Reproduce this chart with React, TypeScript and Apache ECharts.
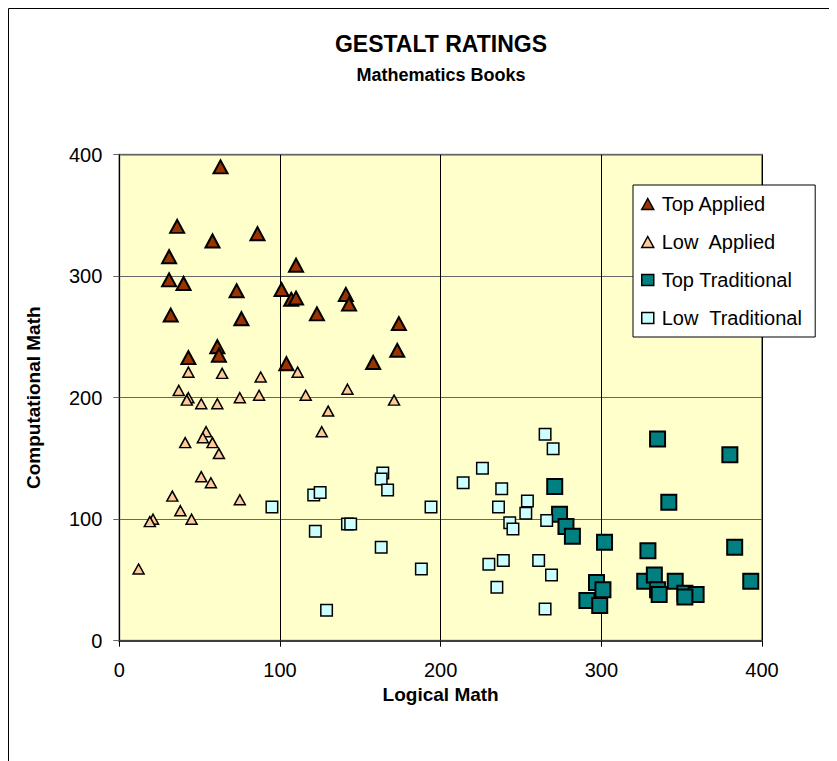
import React, { useEffect, useRef } from "react";
import * as echarts from "echarts";

const TITLE = "GESTALT RATINGS";
const SUBTITLE = "Mathematics Books";
const X_NAME = "Logical Math";
const Y_NAME = "Computational Math";
const X_TICKS = [0, 100, 200, 300, 400];
const Y_TICKS = [0, 100, 200, 300, 400];

const SERIES_NAMES = ["Top Applied", "Low  Applied", "Top Traditional", "Low  Traditional"];

const topApplied: [number, number][] = [
  [63, 390], [36, 341], [86, 335], [58, 329], [31, 316], [110, 309], [31, 297], [40, 294],
  [101, 289], [73, 288], [107, 281], [110, 282], [123, 269], [32, 268], [76, 265], [61, 242],
  [62, 235], [43, 233], [104, 228], [141, 285], [143, 277], [174, 261], [173, 239], [158, 229],
];

const lowApplied: [number, number][] = [
  [43, 221], [64, 220], [88, 217], [111, 221], [37, 206], [43, 200], [42, 198], [51, 195],
  [61, 195], [75, 200], [87, 202], [116, 202], [130, 189], [126, 172], [54, 172], [52, 167],
  [41, 163], [58, 163], [62, 154], [51, 135], [57, 130], [33, 119], [75, 116], [38, 107],
  [21, 100], [19, 98], [45, 100], [12, 59], [142, 207], [171, 198],
];

const topTraditional: [number, number][] = [
  [271, 127], [274, 104], [278, 94], [282, 86], [335, 166], [380, 153], [342, 114], [302, 81],
  [329, 74], [383, 77], [393, 49], [297, 48], [301, 42], [291, 33], [299, 29], [327, 49],
  [333, 54], [335, 42], [336, 38], [346, 49], [352, 39], [359, 38], [352, 36],
];

const lowTraditional: [number, number][] = [
  [95, 110], [121, 120], [125, 122], [122, 90], [129, 25], [164, 138], [163, 133], [167, 124],
  [194, 110], [142, 96], [144, 96], [163, 77], [188, 59], [265, 170], [270, 158], [226, 142],
  [214, 130], [238, 125], [254, 115], [236, 110], [253, 105], [243, 97], [245, 92], [266, 99],
  [239, 66], [230, 63], [261, 66], [269, 54], [235, 44], [265, 26],
];

const FONT = "'Liberation Sans', Arial, sans-serif";

export default function App() {
  const ref = useRef<HTMLDivElement>(null);
  useEffect(() => {
    if (!ref.current) return;
    const chart = echarts.init(ref.current, null, { renderer: "svg" });
    const styles = [
      { symbol: "triangle", size: [14, 13], color: "#993300", bw: 2, legendIcon: "triangle" },
      { symbol: "triangle", size: [11, 10], color: "#FFCC99", bw: 1.5, legendIcon: "triangle" },
      { symbol: "rect", size: 15, color: "#008080", bw: 2, legendIcon: "rect" },
      { symbol: "rect", size: 11.5, color: "#CCFFFF", bw: 1.5, legendIcon: "rect" },
    ];
    const datasets = [topApplied, lowApplied, topTraditional, lowTraditional];
    const option: any = {
      animation: false,
      backgroundColor: "#ffffff",
      textStyle: { fontFamily: FONT },
      graphic: [
        {
          type: "rect",
          shape: { x: 0.5, y: 0.5, width: 900, height: 900 },
          style: { fill: "none", stroke: "#000", lineWidth: 1 },
          silent: true,
          z: -10,
        },
        {
          type: "text",
          x: 433,
          y: 36,
          style: {
            text: TITLE,
            fontFamily: FONT,
            fontWeight: "bold",
            fontSize: 23,
            fill: "#000",
            textAlign: "center",
            textVerticalAlign: "middle",
          },
        },
        {
          type: "text",
          x: 433,
          y: 67,
          style: {
            text: SUBTITLE,
            fontFamily: FONT,
            fontWeight: "bold",
            fontSize: 18,
            fill: "#000",
            textAlign: "center",
            textVerticalAlign: "middle",
          },
        },
      ],
      grid: {
        left: 111.3,
        top: 146.7,
        width: 642.7,
        height: 486,
        show: true,
        backgroundColor: "#FFFFCC",
        borderColor: "#888888",
        borderWidth: 2,
      },
      legend: {
        orient: "vertical",
        left: 625,
        top: 177,
        padding: [9, 13, 9, 8],
        itemGap: 18,
        itemWidth: 12,
        itemHeight: 11,
        backgroundColor: "#ffffff",
        borderColor: "#000000",
        borderWidth: 1,
        textStyle: { fontFamily: FONT, fontSize: 20, color: "#000", lineHeight: 20, padding: [0, 0, 0, 3] },
        data: SERIES_NAMES.map((n, i) => ({
          name: n,
          icon: styles[i].legendIcon,
          itemStyle: { color: styles[i].color, borderColor: "#000", borderWidth: 1.5 },
        })),
      },
      xAxis: {
        type: "value",
        min: X_TICKS[0],
        max: X_TICKS[X_TICKS.length - 1],
        interval: 100,
        name: X_NAME,
        nameLocation: "middle",
        nameGap: 36,
        nameTextStyle: { fontFamily: FONT, fontWeight: "bold", fontSize: 19, color: "#000" },
        axisLine: { show: true, lineStyle: { color: "#404040", width: 2 } },
        axisTick: { show: true, length: 6, lineStyle: { color: "#000", width: 1 } },
        axisLabel: { fontFamily: FONT, fontSize: 20, color: "#000", margin: 19 },
        splitLine: { show: true, lineStyle: { color: "#000", width: 1 } },
      },
      yAxis: {
        type: "value",
        min: Y_TICKS[0],
        max: Y_TICKS[Y_TICKS.length - 1],
        interval: 100,
        name: Y_NAME,
        nameLocation: "middle",
        nameGap: 76,
        nameTextStyle: { fontFamily: FONT, fontWeight: "bold", fontSize: 19, color: "#000" },
        axisLine: { show: true, lineStyle: { color: "#000", width: 1 } },
        axisTick: { show: true, length: 6, lineStyle: { color: "#666", width: 1 } },
        axisLabel: { fontFamily: FONT, fontSize: 20, color: "#000", margin: 17 },
        splitLine: { show: true, lineStyle: { color: "#666", width: 1 } },
      },
      series: datasets.map((d, i) => ({
        name: SERIES_NAMES[i],
        type: "scatter",
        data: d,
        symbol: styles[i].symbol,
        symbolSize: styles[i].size,
        itemStyle: { color: styles[i].color, borderColor: "#000", borderWidth: styles[i].bw, opacity: 1 },
        emphasis: { disabled: true },
      })),
    };
    chart.setOption(option);
    return () => chart.dispose();
  }, []);
  return <div ref={ref} style={{ width: 837, height: 761 }} />;
}
